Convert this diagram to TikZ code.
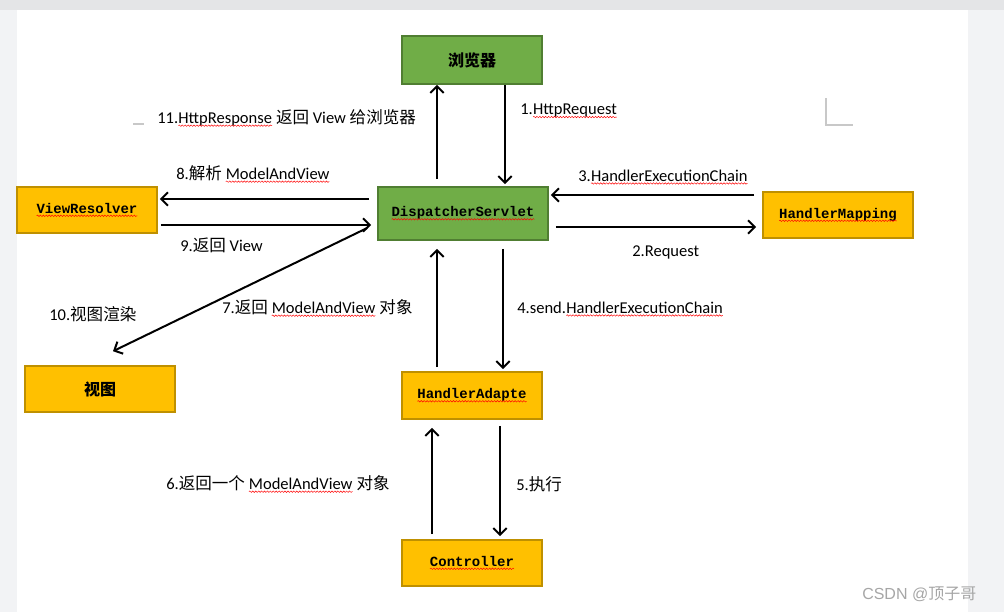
\documentclass[tikz,border=0pt]{standalone}
\usepackage{fontspec}
\setmainfont{Carlito}
\setmonofont{Liberation Mono}
\newfontfamily\cjk{Noto Sans CJK SC}
\newfontfamily\wmfont{Liberation Sans}
\usetikzlibrary{arrows.meta,calc,decorations.pathmorphing}
\definecolor{boxgreen}{HTML}{70AD47}
\definecolor{greenline}{HTML}{507E32}
\definecolor{boxorange}{HTML}{FFC000}
\definecolor{orangeline}{HTML}{BF9000}
\definecolor{sidegray}{HTML}{F2F3F5}
\definecolor{topgray}{HTML}{E4E5E7}
\definecolor{markgray}{HTML}{C8C8C8}
\tikzset{wavyline/.style={draw=red,fill=none,line width=.35pt,decorate,
    decoration={snake,amplitude=.55pt,segment length=2.2pt}}}
% red spell-check squiggle under a word
\newcommand{\wavy}[1]{\tikz[baseline=(wv.base)]{\node[draw=none,fill=none,inner sep=0pt,outer sep=0pt,minimum size=0pt,anchor=base] (wv) {#1};
    \draw[wavyline] ([yshift=-1.8pt]wv.base west) -- ([yshift=-1.8pt]wv.base east);}}

\begin{document}
\begin{tikzpicture}[x=0.75pt,y=-0.75pt,
  greenbox/.style={draw=greenline,fill=boxgreen,line width=1.2pt,inner sep=0pt},
  orangebox/.style={draw=orangeline,fill=boxorange,line width=1.2pt,inner sep=0pt},
  mono/.style={font=\ttfamily\bfseries\fontsize{10.5}{12}\selectfont},
  hanzi/.style={font=\cjk\bfseries\fontsize{12}{14}\selectfont},
  lbl/.style={anchor=west,inner sep=0pt,font=\fontsize{12.4}{14}\selectfont},
  arr/.style={line width=1.5pt,-{Straight Barb[length=5pt,width=10pt]}}]
  \useasboundingbox (0,0) rectangle (1004,612);
  \fill[sidegray] (0,0) rectangle (1004,612);
  \fill[topgray] (0,0) rectangle (1004,10);
  \fill[white] (17,10) rectangle (968,612);
  % page margin marks
  \draw[markgray,line width=.8pt] (133,124) -- (144,124);
  \draw[markgray,line width=.8pt] (826,98) -- (826,125) -- (853,125);

  % boxes
  \node[greenbox,hanzi,minimum width=105,minimum height=36] (browser) at (472,60) {浏览器};
  \node[greenbox,mono,minimum width=127.5,minimum height=39.75] (dispatcher) at (463,213.5) {\wavy{DispatcherServlet}};
  \node[orangebox,mono,minimum width=112.5,minimum height=34.5] (mapping) at (838,215) {\wavy{HandlerMapping}};
  \node[orangebox,mono,minimum width=105,minimum height=34.5] (resolver) at (87,210) {\wavy{ViewResolver}};
  \node[orangebox,hanzi,minimum width=112.5,minimum height=34.5] (view) at (100,389) {视图};
  \node[orangebox,mono,minimum width=105,minimum height=35.25] (adapter) at (472,395.5) {\wavy{HandlerAdapte}};
  \node[orangebox,mono,minimum width=105,minimum height=34.5] (controller) at (472,563) {\wavy{Controller}};

  % connectors
  \draw[arr] ($(browser.south)+(33,0)$) -- ($(dispatcher.north)+(42,-2)$);
  \draw[arr] ($(dispatcher.north)+(-26,-7)$) -- ($(browser.south)+(-35,0)$);
  \draw[arr] ($(mapping.west)+(-8,-20)$) -- ($(dispatcher.east)+(2,-18.5)$);
  \draw[arr] ($(dispatcher.east)+(7,13.5)$) -- ($(mapping.west)+(-6,12)$);
  \draw[arr] ($(dispatcher.west)+(-8,-14.5)$) -- ($(resolver.east)+(2,-11)$);
  \draw[arr] ($(resolver.east)+(3,15)$) -- ($(dispatcher.west)+(-6,11.5)$);
  \draw[arr] ($(dispatcher.west)+(-10,14.5)$) -- ($(view.north)+(13,-14)$);
  \draw[arr] ($(adapter.north)+(-35,-4)$) -- ($(dispatcher.south)+(-26,8)$);
  \draw[arr] ($(dispatcher.south)+(40,8)$) -- ($(adapter.north)+(31,-2)$);
  \draw[arr] ($(controller.north)+(-40,-5)$) -- ($(adapter.south)+(-40,8)$);
  \draw[arr] ($(adapter.south)+(28,6)$) -- ($(controller.north)+(28,-3)$);

  % labels
  \node[lbl] (l1) at (520,111) {1.\wavy{HttpRequest}};
  \node[lbl] (l2) at (632,252) {2.Request};
  \node[lbl] (l3) at (578,177) {3.\wavy{HandlerExecutionChain}};
  \node[lbl] (l4) at (517,309) {4.send.\wavy{HandlerExecutionChain}};
  \node[lbl] (l5) at (516,484) {5.{\cjk 执行}};
  \node[lbl] (l6) at (166,484) {6.{\cjk 返回一个} \wavy{ModelAndView} {\cjk 对象}};
  \node[lbl] (l7) at (222,308) {7.{\cjk 返回} \wavy{ModelAndView} {\cjk 对象}};
  \node[lbl] (l8) at (176,174) {8.{\cjk 解析} \wavy{ModelAndView}};
  \node[lbl] (l9) at (180,245) {9.{\cjk 返回} View};
  \node[lbl] (l10) at (49,314) {10.{\cjk 视图渲染}};
  \node[lbl] (l11) at (157,118) {11.\wavy{HttpResponse} {\cjk 返回} View {\cjk 给浏览器}};
  \node[lbl,text=gray!70,font=\fontsize{12}{14}\selectfont] (mark) at (862,594) {\wmfont CSDN @{\cjk 顶子哥}};
\end{tikzpicture}
\end{document}
